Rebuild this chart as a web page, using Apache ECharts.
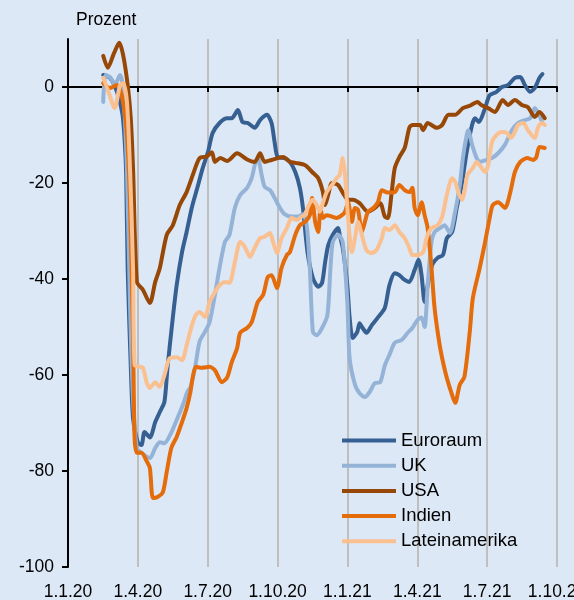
<!DOCTYPE html>
<html><head><meta charset="utf-8">
<script src="https://cdn.jsdelivr.net/npm/echarts@6/dist/echarts.min.js"></script>
<style>html,body{margin:0;padding:0;background:#dce8f6}#c{width:574px;height:600px}</style>
</head><body><div id="c"></div>
<script>
const xLabels = ['1.1.20','1.4.20','1.7.20','1.10.20','1.1.21','1.4.21','1.7.21','1.10.21'];
const yTicks = [-100,-80,-60,-40,-20,0];
const seriesNames = ['Euroraum','UK','USA','Indien','Lateinamerika'];
const seriesColors = ['#376092','#95b3d7','#974806','#e46c0a','#fac090'];

const euroDates = ['2020-02-16','2020-02-25','2020-03-05','2020-03-12','2020-03-15','2020-03-17','2020-03-19','2020-03-23','2020-03-26','2020-04-01','2020-04-06','2020-04-10','2020-04-17','2020-04-24','2020-04-30','2020-05-06','2020-05-10','2020-05-17','2020-05-22','2020-05-29','2020-06-04','2020-06-11','2020-06-18','2020-06-25','2020-07-02','2020-07-08','2020-07-17','2020-07-27','2020-08-02','2020-08-10','2020-08-16','2020-08-23','2020-09-01','2020-09-08','2020-09-17','2020-09-23','2020-09-27','2020-10-01','2020-10-10','2020-10-17','2020-10-24','2020-10-30','2020-11-03','2020-11-09','2020-11-16','2020-11-23','2020-11-28','2020-12-02','2020-12-06','2020-12-12','2020-12-19','2020-12-21','2020-12-25','2020-12-31','2021-01-03','2021-01-07','2021-01-13','2021-01-16','2021-01-20','2021-01-25','2021-02-01','2021-02-09','2021-02-18','2021-02-24','2021-03-03','2021-03-09','2021-03-16','2021-03-22','2021-03-29','2021-04-03','2021-04-07','2021-04-11','2021-04-15','2021-04-21','2021-04-28','2021-05-05','2021-05-10','2021-05-17','2021-05-23','2021-05-30','2021-06-05','2021-06-12','2021-06-16','2021-06-21','2021-06-29','2021-07-05','2021-07-14','2021-07-21','2021-07-29','2021-08-07','2021-08-14','2021-08-20','2021-08-27','2021-09-02','2021-09-08','2021-09-12'];
const euroValues = [2.5,1.9,-1,-5.5,-11,-18,-38,-58,-69,-74,-74.6,-71.9,-73,-69.8,-67.7,-65.6,-58.5,-48,-41.3,-34.4,-30.2,-25,-21,-16.9,-13.5,-9.6,-7.5,-6.5,-6.5,-4.8,-7.3,-7.5,-8.5,-6.9,-5.8,-7.5,-11.5,-14.6,-14.8,-15.6,-17.7,-21,-25.2,-34.4,-39.8,-41.6,-40.8,-36.5,-33,-30.8,-29.4,-30.8,-33.5,-41.3,-48,-52.3,-51,-49.2,-50.2,-51.2,-49.6,-48,-46,-41.3,-38.8,-39.2,-40.2,-40.6,-38.1,-36,-39.2,-44.8,-41.3,-37,-35.6,-35,-31.5,-30.2,-25.2,-19.8,-13.5,-7.9,-6.5,-7.3,-4.4,-1.7,-1,0,0.4,1.9,2.1,0.4,-1,-0.2,1.9,2.7];

const ukDates = ['2020-02-16','2020-02-19','2020-02-25','2020-03-02','2020-03-09','2020-03-13','2020-03-18','2020-03-22','2020-03-26','2020-03-31','2020-04-06','2020-04-17','2020-04-24','2020-04-30','2020-05-06','2020-05-15','2020-05-23','2020-05-30','2020-06-05','2020-06-09','2020-06-15','2020-06-21','2020-06-28','2020-07-04','2020-07-11','2020-07-17','2020-07-24','2020-07-30','2020-08-06','2020-08-13','2020-08-22','2020-08-28','2020-09-01','2020-09-05','2020-09-10','2020-09-14','2020-09-21','2020-09-27','2020-10-04','2020-10-10','2020-10-19','2020-10-27','2020-11-03','2020-11-08','2020-11-12','2020-11-16','2020-11-21','2020-11-28','2020-12-05','2020-12-09','2020-12-12','2020-12-19','2020-12-25','2020-12-31','2021-01-03','2021-01-10','2021-01-16','2021-01-23','2021-01-29','2021-02-05','2021-02-12','2021-02-18','2021-02-24','2021-03-03','2021-03-12','2021-03-20','2021-03-26','2021-04-02','2021-04-07','2021-04-11','2021-04-15','2021-04-20','2021-04-24','2021-05-01','2021-05-07','2021-05-14','2021-05-20','2021-05-27','2021-05-31','2021-06-05','2021-06-07','2021-06-12','2021-06-18','2021-06-22','2021-06-29','2021-07-08','2021-07-16','2021-07-25','2021-08-03','2021-08-11','2021-08-20','2021-08-27','2021-09-02','2021-09-08','2021-09-12'];
const ukValues = [-3.1,2.5,2,0.4,2.5,-0.6,-17,-45,-65,-75.2,-76.2,-77.3,-75.2,-74,-74.2,-72,-69,-66.3,-63.5,-62.5,-58.5,-53,-51,-49,-43.3,-37.7,-32.3,-30.8,-25.2,-22.5,-21,-19,-16.3,-14.6,-18.3,-20.8,-21.5,-23.1,-25.2,-26.5,-27,-27,-26.5,-28.8,-37.7,-51,-51.7,-50.2,-47.5,-37.7,-32.3,-30.8,-32.3,-44.8,-56.5,-62,-63.8,-64.6,-63.6,-61.7,-61.5,-58,-55.8,-53.3,-52.7,-51.2,-50.2,-48.5,-48,-50,-41.3,-32.3,-30.2,-29.4,-28.8,-30.4,-26.7,-20.4,-14.8,-10,-9,-12,-14.8,-15.6,-15.3,-14.8,-13.8,-12,-9,-7.5,-6.9,-6.5,-4.4,-6,-7.5];

const usaDates = ['2020-02-16','2020-02-22','2020-03-01','2020-03-08','2020-03-13','2020-03-19','2020-03-23','2020-03-26','2020-03-31','2020-04-08','2020-04-17','2020-04-24','2020-04-30','2020-05-09','2020-05-17','2020-05-26','2020-06-04','2020-06-15','2020-06-21','2020-06-30','2020-07-07','2020-07-11','2020-07-18','2020-07-27','2020-08-09','2020-08-22','2020-09-01','2020-09-08','2020-09-14','2020-09-23','2020-10-08','2020-10-17','2020-10-24','2020-11-06','2020-11-15','2020-11-23','2020-11-29','2020-12-02','2020-12-06','2020-12-11','2020-12-19','2020-12-25','2021-01-01','2021-01-07','2021-01-16','2021-01-27','2021-02-05','2021-02-12','2021-02-18','2021-02-22','2021-02-27','2021-03-03','2021-03-09','2021-03-16','2021-03-22','2021-03-26','2021-04-05','2021-04-09','2021-04-15','2021-04-27','2021-05-04','2021-05-12','2021-05-21','2021-05-31','2021-06-09','2021-06-19','2021-06-24','2021-07-03','2021-07-12','2021-07-22','2021-07-29','2021-08-07','2021-08-16','2021-08-24','2021-09-02','2021-09-08','2021-09-15'];
const usaValues = [6.5,4,7,9.2,6.7,0.4,-6.5,-17,-40.6,-42.3,-45,-40.6,-37.7,-30.8,-28.8,-24.6,-21.9,-17,-14.8,-14.5,-13.6,-15.6,-14.8,-15.4,-13.8,-15.1,-15.6,-13.8,-15.6,-15.2,-14.6,-15.6,-15.8,-16.3,-17.7,-19,-21.8,-24.6,-22.5,-20,-20.4,-22,-23.5,-23.5,-24.2,-26,-25.2,-24.2,-27,-27.3,-21.9,-16.9,-14.6,-12.7,-8.5,-7.9,-7.9,-9,-7.5,-8.5,-7.9,-5.8,-5.8,-4.4,-3.9,-3.1,-3.75,-4.4,-5.2,-2.7,-3.75,-2.7,-3.75,-4.2,-6.25,-5.2,-6.5];

const indDates = ['2020-02-16','2020-02-25','2020-03-05','2020-03-12','2020-03-18','2020-03-22','2020-03-26','2020-03-28','2020-03-31','2020-04-06','2020-04-13','2020-04-17','2020-04-21','2020-04-27','2020-05-04','2020-05-09','2020-05-15','2020-05-22','2020-05-29','2020-06-04','2020-06-09','2020-06-12','2020-06-16','2020-06-24','2020-07-04','2020-07-11','2020-07-20','2020-07-27','2020-08-02','2020-08-09','2020-08-13','2020-08-22','2020-08-28','2020-09-05','2020-09-12','2020-09-18','2020-09-23','2020-09-30','2020-10-06','2020-10-13','2020-10-17','2020-10-24','2020-10-30','2020-11-06','2020-11-12','2020-11-15','2020-11-19','2020-11-23','2020-11-26','2020-11-29','2020-12-04','2020-12-11','2020-12-17','2020-12-24','2020-12-28','2021-01-01','2021-01-06','2021-01-10','2021-01-14','2021-01-19','2021-01-23','2021-01-27','2021-02-03','2021-02-09','2021-02-14','2021-02-22','2021-03-03','2021-03-09','2021-03-16','2021-03-22','2021-03-26','2021-03-29','2021-04-02','2021-04-07','2021-04-11','2021-04-15','2021-04-20','2021-04-24','2021-04-30','2021-05-05','2021-05-10','2021-05-17','2021-05-21','2021-05-27','2021-06-02','2021-06-09','2021-06-13','2021-06-22','2021-06-29','2021-07-05','2021-07-09','2021-07-16','2021-07-25','2021-08-01','2021-08-07','2021-08-14','2021-08-23','2021-08-31','2021-09-04','2021-09-08','2021-09-15'];
const indValues = [0.8,-0.2,0.4,-2.3,-10,-24,-51.7,-73,-76.2,-76.2,-78,-79.4,-85.6,-85.4,-84.4,-80.2,-75.2,-72.9,-69.8,-66.9,-63.5,-60.5,-58.3,-58.5,-58.3,-59,-61.5,-60.5,-57.3,-54.4,-51.2,-50.2,-49,-44.8,-43.3,-39.6,-39.2,-41.9,-37.7,-35,-34.4,-30.8,-28.8,-28.1,-26.7,-23.1,-28.1,-30.2,-25.2,-27.3,-26.7,-27,-27.3,-26.7,-26,-24,-28.1,-25.2,-25.6,-30.2,-28.1,-26,-25.2,-24,-21.5,-22,-21.9,-20.4,-21.5,-21.9,-21,-25.2,-26.7,-24,-26.7,-29.4,-37.7,-46,-53.1,-57.3,-60.6,-64.2,-65.8,-62,-60.4,-51,-44,-37.7,-32.3,-27.3,-24.6,-24,-25.2,-21.9,-17.7,-15.6,-14.8,-15.2,-14.6,-12.5,-12.7];

const latDates = ['2020-02-16','2020-02-22','2020-03-02','2020-03-09','2020-03-13','2020-03-18','2020-03-22','2020-03-26','2020-03-28','2020-04-04','2020-04-08','2020-04-13','2020-04-17','2020-04-24','2020-04-30','2020-05-06','2020-05-13','2020-05-22','2020-05-29','2020-06-04','2020-06-11','2020-06-16','2020-06-21','2020-06-28','2020-07-04','2020-07-11','2020-07-17','2020-07-24','2020-07-30','2020-08-06','2020-08-13','2020-08-19','2020-08-26','2020-09-01','2020-09-08','2020-09-14','2020-09-21','2020-09-25','2020-09-30','2020-10-06','2020-10-13','2020-10-19','2020-10-26','2020-11-01','2020-11-05','2020-11-12','2020-11-16','2020-11-21','2020-11-25','2020-11-29','2020-12-04','2020-12-11','2020-12-17','2020-12-21','2020-12-25','2020-12-28','2021-01-01','2021-01-06','2021-01-10','2021-01-14','2021-01-19','2021-01-25','2021-02-01','2021-02-07','2021-02-14','2021-02-18','2021-02-24','2021-03-03','2021-03-09','2021-03-16','2021-03-22','2021-03-26','2021-04-02','2021-04-09','2021-04-14','2021-04-20','2021-04-28','2021-05-04','2021-05-10','2021-05-17','2021-05-21','2021-05-25','2021-05-30','2021-06-02','2021-06-06','2021-06-13','2021-06-18','2021-06-22','2021-06-29','2021-07-03','2021-07-08','2021-07-14','2021-07-21','2021-07-28','2021-08-01','2021-08-05','2021-08-11','2021-08-18','2021-08-24','2021-09-02','2021-09-06','2021-09-11','2021-09-15'];
const latValues = [1.9,-0.6,-4.4,0.4,0.8,-3.1,-16.9,-37.7,-57.9,-58.3,-58.5,-61.7,-62.7,-61.5,-62.5,-60,-56.5,-56.3,-56.9,-53.8,-49.6,-47.5,-46.9,-47.9,-44.8,-42.7,-41.3,-40.6,-40.8,-36.5,-32.3,-33.3,-35.4,-33.5,-31.5,-31.2,-30.4,-32.3,-34.6,-31.5,-29.4,-27.3,-27.7,-27,-26.7,-24.2,-23.5,-24.6,-26,-24.2,-21.9,-20.4,-19,-18.3,-14.8,-18.3,-27.3,-34.4,-31.5,-28.1,-30.8,-34,-34.6,-34,-31.5,-29.4,-29.8,-28.8,-30.2,-31.5,-33.5,-35,-35,-34.4,-31.2,-29.4,-28.8,-27,-22.5,-19,-19.8,-21.9,-23.5,-21.9,-18.3,-16.9,-15.6,-16.3,-17.7,-16.3,-11.5,-10,-9.4,-9.6,-10.6,-10,-7.9,-7.5,-9,-10.6,-8.5,-7.5,-7.9];

const allDates = [euroDates, ukDates, usaDates, indDates, latDates];
const allValues = [euroValues, ukValues, usaValues, indValues, latValues];

const DAY = 86400000, T0 = Date.UTC(2020, 0, 1);
function toDay(s) { return (Date.parse(s + 'T00:00:00Z') - T0) / DAY; }
const SPAN = toDay('2021-10-01');
const STEP = SPAN / (xLabels.length - 1);
const FONT = '"Liberation Sans", Arial, sans-serif';

const chart = echarts.init(document.getElementById('c'), null, {renderer: 'canvas'});
chart.setOption({
  backgroundColor: '#dce8f6',
  animation: false,
  grid: {left: 68, right: 17, top: 39, bottom: 33, containLabel: false, outerBoundsMode: 'none'},
  graphic: [{type: 'text', left: 76, top: 11, style: {text: 'Prozent', fontSize: 17.5, fontFamily: FONT, fill: '#000'}}],
  legend: {
    data: seriesNames, orient: 'vertical', left: 342, top: 431, padding: 0, icon: 'rect',
    itemWidth: 54, itemHeight: 4, itemGap: 6.2,
    textStyle: {fontSize: 18.5, fontFamily: FONT, color: '#000'}
  },
  xAxis: [{
    type: 'value', min: 0, max: SPAN, interval: STEP, position: 'bottom',
    axisLine: {show: true, onZero: true, lineStyle: {color: '#000', width: 2}},
    axisTick: {show: true, inside: false, length: 5, lineStyle: {color: '#000', width: 2}},
    axisLabel: {show: false},
    splitLine: {show: true, lineStyle: {color: '#bfbfbf', width: 2}}
  }, {
    type: 'value', min: 0, max: SPAN, interval: STEP, position: 'bottom',
    axisLine: {show: false, onZero: false}, axisTick: {show: false}, splitLine: {show: false},
    axisLabel: {show: true, margin: 16, fontSize: 17.5, fontFamily: FONT, color: '#000',
      formatter: v => xLabels[Math.round(v / STEP)] || ''}
  }],
  yAxis: {
    type: 'value', min: -100, max: 10, interval: 20,
    axisLine: {show: true, onZero: false, lineStyle: {color: '#000', width: 2}},
    axisTick: {show: true, length: 6, lineStyle: {color: '#000', width: 2}, customValues: yTicks},
    axisLabel: {margin: 14, fontSize: 17.5, fontFamily: FONT, color: '#000', customValues: yTicks,
      formatter: v => v > 0 ? '' : String(v)},
    splitLine: {show: false}
  },
  series: seriesNames.map((name, k) => ({
    name, type: 'line', xAxisIndex: 0, yAxisIndex: 0,
    data: allDates[k].map((d, i) => [toDay(d), allValues[k][i]]),
    showSymbol: false, symbol: 'none', smooth: 0.25,
    lineStyle: {width: 4, color: seriesColors[k], cap: 'round', join: 'round'},
    itemStyle: {color: seriesColors[k]}
  }))
});
</script></body></html>
